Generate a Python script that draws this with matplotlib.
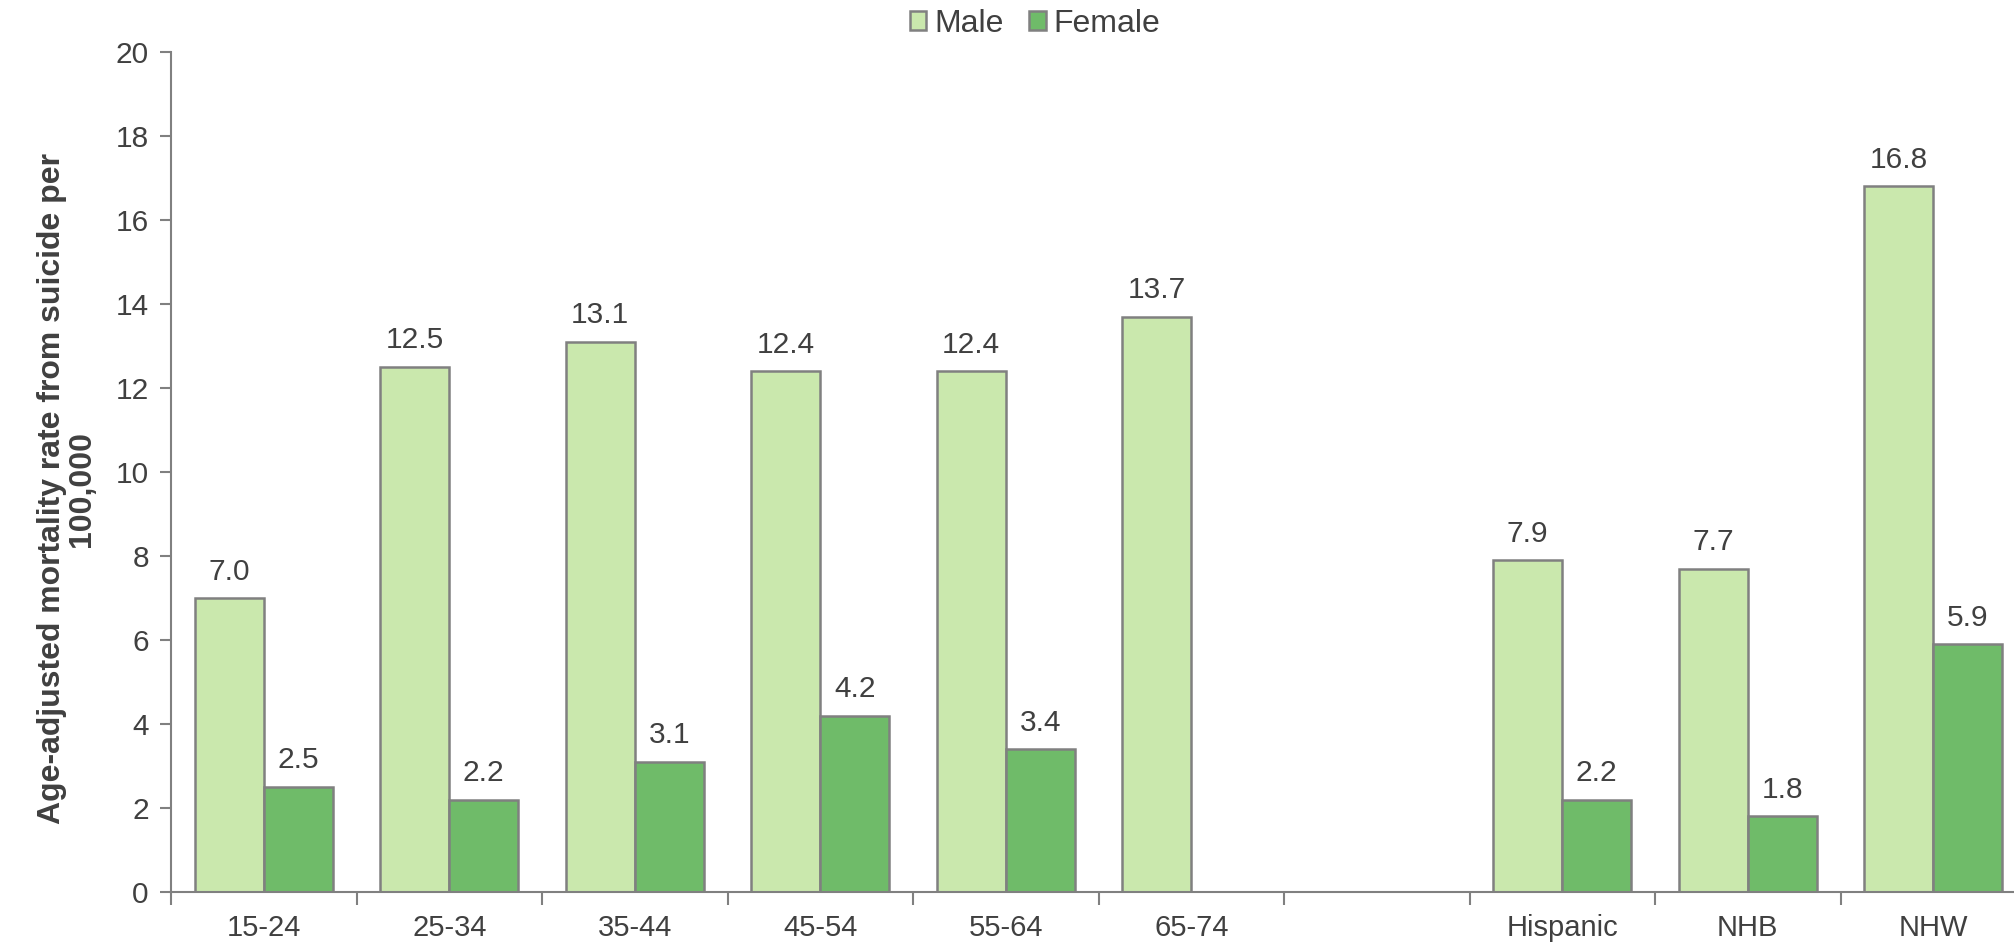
import numpy as np
import matplotlib
matplotlib.use("Agg")
import matplotlib.pyplot as plt

categories = ["15-24", "25-34", "35-44", "45-54", "55-64", "65-74", "", "Hispanic", "NHB", "NHW"]
male = [7.0, 12.5, 13.1, 12.4, 12.4, 13.7, np.nan, 7.9, 7.7, 16.8]
female = [2.5, 2.2, 3.1, 4.2, 3.4, np.nan, np.nan, 2.2, 1.8, 5.9]
yticks = [0, 2, 4, 6, 8, 10, 12, 14, 16, 18, 20]

plt.rcParams['font.family'] = ['Liberation Sans', 'DejaVu Sans']
text_color = '#404040'
edge = '#808080'
c_male = '#CAE8AD'
c_female = '#6FBB69'

W, H = 2014, 943
fig = plt.figure(figsize=(W / 100, H / 100), dpi=100)
left, right, bottom, top = 171, 2026, 892, 52
ax = fig.add_axes([left / W, 1 - bottom / H, (right - left) / W, (bottom - top) / H])

n = len(categories)
x = np.arange(n)
bw = 0.372
b1 = ax.bar(x - bw / 2, male, bw, color=c_male, edgecolor=edge, linewidth=1.8, label='Male')
b2 = ax.bar(x + bw / 2, female, bw, color=c_female, edgecolor=edge, linewidth=1.8, label='Female')

for bars, vals in ((b1, male), (b2, female)):
    for rect, v in zip(bars, vals):
        if np.isnan(v):
            continue
        ax.annotate(f"{v:.1f}", (rect.get_x() + rect.get_width() / 2, v),
                    xytext=(0, 9), textcoords='offset points', ha='center', va='bottom',
                    fontsize=21.5, color=text_color)

ax.set_xlim(-0.5, n - 0.5)
ax.set_ylim(0, 20)
ax.set_yticks(yticks)
ax.set_xticks(x)
ax.set_xticklabels(categories)
ax.set_xticks(np.arange(n + 1) - 0.5, minor=True)
ax.tick_params(axis='x', which='major', length=0, pad=16, labelsize=21, labelcolor=text_color)
ax.tick_params(axis='x', which='minor', length=9, width=1.5, color=edge, direction='out')
ax.tick_params(axis='y', length=8, width=1.5, color=edge, direction='out', labelsize=21.5,
               labelcolor=text_color, pad=8)
for s in ('top', 'right'):
    ax.spines[s].set_visible(False)
for s in ('left', 'bottom'):
    ax.spines[s].set_color(edge)
    ax.spines[s].set_linewidth(1.5)

ax.set_ylabel("Age-adjusted mortality rate from suicide per\n100,000", fontsize=23,
              fontweight='bold', color=text_color, linespacing=1.0)
ax.yaxis.set_label_coords(-0.040, 0.48)

leg = fig.legend(handles=[b1, b2], labels=['Male', 'Female'], loc='center',
                 bbox_to_anchor=(1035 / W, 1 - 24 / H), ncol=2, frameon=False,
                 fontsize=23, handlelength=0.52, handleheight=0.52, handletextpad=0.25,
                 columnspacing=0.8, labelcolor=text_color)

fig.savefig("out.png", dpi=100)
